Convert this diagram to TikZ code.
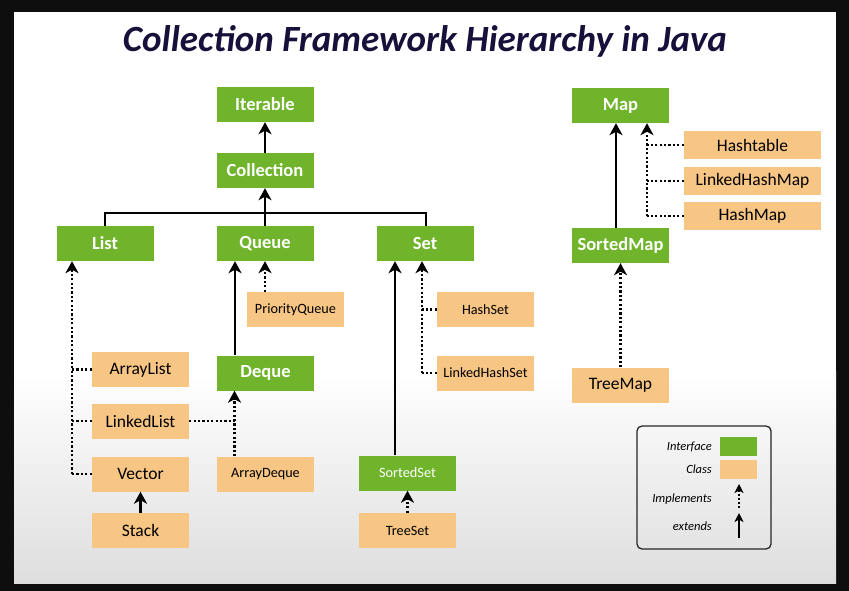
\documentclass[tikz,border=0pt]{standalone}
\usepackage{fontspec}
\setmainfont{Carlito}
\usetikzlibrary{arrows.meta,calc}
\definecolor{grn}{HTML}{70B42C}
\definecolor{org}{HTML}{F7C584}
\definecolor{ttl}{HTML}{16103A}
\definecolor{frm}{HTML}{0E0E0E}
\begin{document}
\begin{tikzpicture}[x=1pt,y=-1pt,
  iface/.style={fill=grn, text=white, font=\fontsize{18.5}{20}\selectfont\bfseries,
    minimum width=97pt, minimum height=35pt, inner sep=0pt},
  cls/.style={fill=org, text=black, font=\fontsize{17.5}{19}\selectfont,
    minimum width=97pt, minimum height=35pt, inner sep=0pt},
  small/.style={font=\fontsize{14.2}{16}\selectfont},
  mapcls/.style={cls, minimum width=137pt, minimum height=28pt},
  tip/.style={-{Stealth[length=12pt,width=13pt,inset=3.5pt]}},
  ext/.style={line width=2.4pt, tip},
  implline/.style={line width=2.4pt, dash pattern=on 2.2pt off 2.2pt},
  impl/.style={implline, tip},
  legtxt/.style={font=\fontsize{12.5}{14}\selectfont\itshape, anchor=east, inner sep=0pt},
  ttlstyle/.style={font=\fontsize{37}{40}\selectfont\bfseries\itshape, text=ttl}
]
\useasboundingbox (0,0) rectangle (849,591);
% frame and background
\fill[frm] (0,0) rectangle (849,591);
\fill[white] (14,12) rectangle (836,372);
\shade[top color=white, bottom color=black!13] (14,371) rectangle (836,583);

\node[ttlstyle] (title) at (425,41) {Collection Framework Hierarchy in Java};

% interfaces
\node[iface] (iter)  at (265,104.5) {Iterable};
\node[iface] (coll)  at (265,170.5) {Collection};
\node[iface] (list)  at (105,243.5) {List};
\node[iface] (queue) at (265,243.5) {Queue};
\node[iface] (set)   at (425,243.5) {Set};
\node[iface] (deque) at (265.5,373) {Deque};
\node[iface, font=\fontsize{14.3}{16}\selectfont] (sset) at (407.5,473) {SortedSet};
\node[iface] (map)   at (620.5,105.5) {Map};
\node[iface] (smap)  at (620.5,245.5) {SortedMap};

% classes
\node[mapcls] (htab) at (752.5,145) {Hashtable};
\node[mapcls] (lhm)  at (752.5,181) {LinkedHashMap};
\node[mapcls] (hm)   at (752.5,216) {HashMap};
\node[cls] (tmap)    at (620.5,385) {TreeMap};
\node[cls, small] (pq)    at (295.5,309.5) {PriorityQueue};
\node[cls, small] (hset)  at (485.5,309.5) {HashSet};
\node[cls, small] (lhset) at (485.5,373) {LinkedHashSet};
\node[cls] (alist)  at (140.5,369.5) {ArrayList};
\node[cls] (llist)  at (140.5,421) {LinkedList};
\node[cls] (vector) at (140.5,474) {Vector};
\node[cls] (stack)  at (140.5,530.5) {Stack};
\node[cls, small] (adeque) at (265.5,474) {ArrayDeque};
\node[cls, small] (tset)   at (407.5,530.5) {TreeSet};

% Collection part
\coordinate (jc) at (265,213);
\draw[line width=2.4pt] (list.north) |- (jc) -| ([xshift=1pt]set.north);
\draw[ext] (queue.north) -- (coll.south);
\draw[ext] (coll.north) -- (iter.south);

% List implementations
\coordinate (lx) at ([xshift=-33pt]list.south);
\draw[impl] (vector.west -| lx) -- (lx);
\draw[implline] (vector.west) -- (vector.west -| lx);
\draw[implline] (alist.west) -- (alist.west -| lx);
\draw[implline] (llist.west) -- (llist.west -| lx);
\draw[ext] (stack.north) -- (vector.south);

% Queue
\coordinate (qs) at ([xshift=-30pt]queue.south);
\draw[ext] (qs |- deque.north) -- (qs);
\draw[impl] (queue.south |- pq.north) -- (queue.south);
\coordinate (ds) at ([xshift=-31pt]deque.south);
\draw[impl] (ds |- adeque.north) -- (ds);
\draw[implline] (llist.east) -- (llist.east -| ds);

% Set
\coordinate (ss) at ([xshift=-30pt]set.south);
\draw[ext] (ss |- sset.north) -- (ss);
\coordinate (sd) at ([xshift=-3pt]set.south);
\draw[impl] (sd |- lhset.west) -- (sd);
\draw[implline] (lhset.west) -- (lhset.west -| sd);
\draw[implline] (hset.west) -- (hset.west -| sd);
\draw[impl] (tset.north) -- (sset.south);

% Map
\coordinate (ms) at ([xshift=-4.5pt]map.south);
\draw[ext] (ms |- smap.north) -- (ms);
\coordinate (md) at ([xshift=26.5pt]map.south);
\draw[impl] (md |- hm.west) -- (md);
\draw[implline] (hm.west) -- (hm.west -| md);
\draw[implline] (htab.west) -- (htab.west -| md);
\draw[implline] (lhm.west) -- (lhm.west -| md);
\draw[impl] (tmap.north) -- (smap.south);

% Legend
\node[draw=black!85, line width=1.3pt, rounded corners=5pt, minimum width=134pt,
  minimum height=123pt, inner sep=0pt] (leg) at (704,487.5) {};
\node[fill=grn, minimum width=37pt, minimum height=19pt, inner sep=0pt] (lgi) at (738.5,446.5) {};
\node[fill=org, minimum width=37pt, minimum height=19pt, inner sep=0pt] (lgc) at (738.5,469.5) {};
\node[legtxt] (lti) at (712,447) {Interface};
\node[legtxt] (ltc) at (712,469.5) {Class};
\node[legtxt] (ltm) at (712,499) {Implements};
\node[legtxt] (lte) at (712,526) {extends};
\coordinate (la1) at (739,508);
\coordinate (la2) at (739,484);
\coordinate (la3) at (739,538);
\coordinate (la4) at (739,513);
\draw[line width=2pt, dash pattern=on 2pt off 2pt, -{Stealth[length=9pt,width=9pt,inset=2.5pt]}] (la1) -- (la2);
\draw[line width=2pt, -{Stealth[length=9pt,width=9pt,inset=2.5pt]}] (la3) -- (la4);
\end{tikzpicture}
\end{document}
